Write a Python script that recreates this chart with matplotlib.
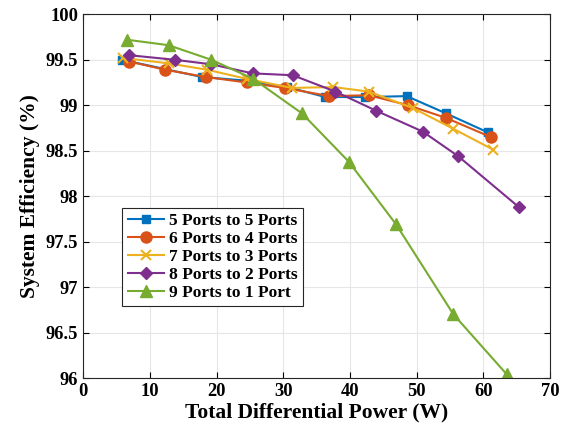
import matplotlib.pyplot as plt
import numpy as np

plt.rcParams['font.family'] = ['Liberation Serif', 'DejaVu Serif']
plt.rcParams['font.weight'] = 'bold'

labels = ['5 Ports to 5 Ports', '6 Ports to 4 Ports', '7 Ports to 3 Ports',
          '8 Ports to 2 Ports', '9 Ports to 1 Port']

p5 = [5.8, 17.8, 24.5, 30.6, 36.3, 42.3, 48.5, 54.4, 60.7]
e5 = [99.50, 99.31, 99.27, 99.20, 99.09, 99.09, 99.10, 98.91, 98.70]

p6 = [6.9, 12.3, 18.4, 24.5, 30.2, 36.9, 42.8, 48.7, 54.4, 61.1]
e6 = [99.48, 99.39, 99.31, 99.25, 99.19, 99.10, 99.11, 99.00, 98.86, 98.65]

p7 = [6.0, 12.8, 18.6, 24.5, 31.3, 37.5, 42.8, 49.4, 55.5, 61.5]
e7 = [99.52, 99.46, 99.39, 99.29, 99.19, 99.20, 99.15, 98.97, 98.74, 98.51]

p8 = [6.9, 13.7, 19.2, 25.4, 31.4, 37.8, 43.9, 50.9, 56.2, 65.3]
e8 = [99.55, 99.50, 99.45, 99.35, 99.33, 99.15, 98.94, 98.71, 98.44, 97.88]

p9 = [6.6, 12.8, 19.2, 25.5, 32.8, 39.8, 46.9, 55.5, 63.5]
e9 = [99.72, 99.66, 99.50, 99.29, 98.91, 98.38, 97.69, 96.70, 96.04]

colors = ['#0072BD', '#D95319', '#EDB120', '#7E2F8E', '#77AC30']
markers = ['s', 'o', 'x', 'D', '^']
msizes = [5.5, 8, 7, 6.5, 8]

fig, ax = plt.subplots(figsize=(5.66, 4.33), dpi=100)
fig.subplots_adjust(left=0.147, right=0.972, top=0.967, bottom=0.127)

for x, y, c, m, ms, lab in zip([p5, p6, p7, p8, p9], [e5, e6, e7, e8, e9],
                               colors, markers, msizes, labels):
    ax.plot(x, y, color=c, marker=m, markersize=ms, linewidth=1.5,
            markeredgewidth=1.5 if m == 'x' else 1, label=lab)

ax.set_xlim(0, 70)
ax.set_ylim(96, 100)
ax.set_xticks(np.arange(0, 71, 10))
ax.set_yticks(np.arange(96, 100.01, 0.5))
ax.set_yticklabels(['96', '96.5', '97', '97.5', '98', '98.5', '99', '99.5', '100'])
ax.grid(True, color='#e6e6e6', linewidth=0.8)
ax.set_axisbelow(True)
ax.tick_params(direction='in', top=True, right=True, labelsize=13.3, length=4)
for s in ax.spines.values():
    s.set_color('#262626')
    s.set_linewidth(0.8)

ax.set_xlabel('Total Differential Power (W)', fontsize=15.5, fontweight='bold', labelpad=2)
ax.set_ylabel('System Efficiency (%)', fontsize=15.5, fontweight='bold', labelpad=4)

leg = ax.legend(loc='lower left', bbox_to_anchor=(0.084, 0.198), fontsize=12.5,
                handlelength=2.1, handletextpad=0.3, borderpad=0.3,
                labelspacing=0.1, fancybox=False, framealpha=1,
                borderaxespad=0)
leg.get_frame().set_edgecolor('#262626')
leg.get_frame().set_linewidth(0.8)

fig.savefig('out.png', dpi=100)
